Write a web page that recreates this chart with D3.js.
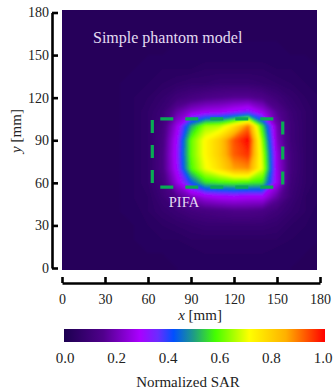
<!DOCTYPE html>
<html>
<head>
<meta charset="utf-8">
<title>SAR map</title>
<script src="https://cdn.jsdelivr.net/npm/d3@7"></script>
<style>
  body { margin: 0; background: #fff; }
  svg text { font-family: "Liberation Serif", "Times New Roman", serif; }
</style>
</head>
<body>
<svg id="sar" width="336" height="392"></svg>
<script>
// grid nodes (mm), rows go from top (y=180) to bottom (y=0)
var gridX = [0, 10, 20, 30, 40, 50, 60, 70, 80, 90, 100, 110, 120, 130, 140, 150, 160, 170, 180];
var gridY = [180, 170, 160, 150, 140, 130, 120, 110, 100, 90, 80, 70, 60, 50, 40, 30, 20, 10, 0];

// normalized SAR, in percent
var sarRows = [
  [2, 2, 2, 2, 2, 2, 2, 2, 2, 2, 2, 2, 2, 2, 2, 2, 2, 2, 2],
  [2, 2, 2, 2, 2, 2, 2, 2, 2, 2, 2, 2, 2, 2, 2, 2, 2, 2, 2],
  [2, 2, 2, 2, 2, 2, 2, 2, 3, 3, 3, 3, 3, 3, 3, 3, 2, 2, 2],
  [2, 2, 2, 2, 2, 2, 3, 3, 3, 3, 3, 3, 3, 3, 3, 3, 3, 3, 2],
  [2, 2, 2, 2, 2, 3, 3, 4, 4, 4, 5, 5, 5, 5, 5, 4, 4, 3, 3],
  [2, 2, 2, 2, 3, 3, 4, 5, 6, 7, 7, 8, 8, 8, 7, 6, 5, 4, 3],
  [2, 2, 2, 2, 3, 4, 5, 7, 10, 12, 14, 15, 16, 16, 14, 10, 7, 5, 4],
  [2, 2, 2, 2, 3, 4, 6, 9, 18, 24, 27, 28, 31, 34, 26, 16, 9, 6, 4],
  [2, 2, 2, 2, 3, 4, 6, 11, 26, 50, 64, 66, 76, 90, 55, 20, 10, 6, 4],
  [2, 2, 2, 2, 3, 4, 6, 12, 30, 60, 72, 80, 93, 100, 62, 22, 10, 6, 4],
  [2, 2, 2, 2, 3, 4, 6, 13, 31, 60, 72, 80, 92, 96, 66, 25, 11, 6, 4],
  [2, 2, 2, 2, 3, 4, 6, 13, 30, 58, 70, 77, 86, 88, 68, 26, 11, 6, 4],
  [2, 2, 2, 2, 3, 4, 6, 11, 25, 42, 55, 57, 58, 57, 56, 27, 10, 6, 4],
  [2, 2, 2, 2, 3, 4, 5, 9, 15, 21, 26, 28, 29, 28, 28, 18, 9, 5, 4],
  [2, 2, 2, 2, 3, 3, 5, 7, 9, 11, 12, 13, 14, 14, 13, 10, 7, 5, 3],
  [2, 2, 2, 2, 2, 3, 4, 5, 6, 7, 8, 8, 8, 8, 8, 7, 5, 4, 3],
  [2, 2, 2, 2, 2, 3, 3, 4, 4, 5, 5, 5, 5, 5, 5, 5, 4, 3, 3],
  [2, 2, 2, 2, 2, 2, 3, 3, 3, 3, 4, 4, 4, 4, 4, 3, 3, 3, 2],
  [2, 2, 2, 2, 2, 2, 2, 2, 3, 3, 3, 3, 3, 3, 3, 3, 3, 2, 2]
];

var axisTicks = [0, 30, 60, 90, 120, 150, 180];
var barTicks = [0, 0.2, 0.4, 0.6, 0.8, 1.0];

// colour map of the SAR scale
var cmapStops = [0, 0.15, 0.29, 0.36, 0.42, 0.5, 0.58, 0.71, 0.85, 1.0];
var cmapColors = ["#1c0050", "#50008c", "#aa00ff", "#6a2cff", "#0050ff", "#20a080",
                  "#44ff00", "#ffff00", "#ffb000", "#ff0000"];

// PIFA outline [x0, x1, y0, y1] in mm
var pifaBox = [63, 154, 57, 105];

var svg = d3.select('#sar');

var x = d3.scaleLinear().domain([0, 180]).range([62, 320]);
var y = d3.scaleLinear().domain([0, 180]).range([268, 12.5]);
var color = d3.scaleLinear().domain(cmapStops).range(cmapColors).clamp(true);

var defs = svg.append('defs');
defs.append('clipPath').attr('id', 'plotclip')
  .append('rect')
  .attr('x', 62).attr('y', 10)
  .attr('width', 255).attr('height', 260);
defs.append('filter').attr('id', 'soft')
  .attr('x', '-5%').attr('y', '-5%').attr('width', '110%').attr('height', '110%')
  .append('feGaussianBlur').attr('stdDeviation', 1.3);

// heat map from contour bands
var values = [];
sarRows.forEach(function(r) { r.forEach(function(v) { values.push(v / 100); }); });

var nx = gridX.length, ny = gridY.length;
var step = gridX[1] - gridX[0];
var thresholds = d3.range(1, 100).map(function(d) { return d / 100; });
var bands = d3.contours().size([nx, ny]).thresholds(thresholds)(values);

var proj = d3.geoTransform({
  point: function(cx, cy) {
    this.stream.point(x(gridX[0] + step * (cx - 0.5)), y(gridY[0] - step * (cy - 0.5)));
  }
});
var path = d3.geoPath(proj);

var heat = svg.append('g').attr('clip-path', 'url(#plotclip)')
  .append('g').attr('filter', 'url(#soft)');

heat.append('rect')
  .attr('x', 50).attr('y', 0).attr('width', 280).attr('height', 285)
  .attr('fill', color(0.01));

heat.selectAll('path.band')
  .data(bands)
  .enter().append('path')
  .attr('class', 'band')
  .attr('d', path)
  .attr('fill', function(d) { return color(d.value + 0.005); });

// PIFA dashed outline
svg.append('rect')
  .attr('x', x(pifaBox[0]))
  .attr('y', y(pifaBox[3]))
  .attr('width', x(pifaBox[1]) - x(pifaBox[0]))
  .attr('height', y(pifaBox[2]) - y(pifaBox[3]))
  .attr('fill', 'none')
  .attr('stroke', '#0aaa55')
  .attr('stroke-width', 3.2)
  .attr('stroke-dasharray', '13,12')
  .attr('stroke-dashoffset', 17);

svg.append('text')
  .attr('x', 93).attr('y', 43)
  .attr('font-size', 16)
  .attr('fill', '#e4dcf2')
  .text('Simple phantom model');

svg.append('text')
  .attr('x', x(74.5)).attr('y', 207)
  .attr('font-size', 14.5)
  .attr('fill', '#e4dcf2')
  .text('PIFA');

// axes
var yAxis = svg.append('g')
  .attr('transform', 'translate(52,0)')
  .call(d3.axisLeft(y).tickValues(axisTicks).tickSizeInner(-6).tickSizeOuter(0).tickPadding(3));

var xAxis = svg.append('g')
  .attr('transform', 'translate(0,283)')
  .call(d3.axisBottom(x).tickValues(axisTicks).tickSizeInner(-6).tickSizeOuter(0).tickPadding(11));

[yAxis, xAxis].forEach(function(a) {
  a.select('.domain').attr('stroke', '#000').attr('stroke-width', 2.6);
  a.selectAll('.tick line').attr('stroke', '#000').attr('stroke-width', 2.6);
  a.selectAll('.tick text')
    .attr('font-family', '"Liberation Serif", serif')
    .attr('font-size', 14)
    .attr('fill', '#222');
});

var xl = svg.append('text')
  .attr('x', 200).attr('y', 320)
  .attr('text-anchor', 'middle')
  .attr('font-size', 15)
  .attr('fill', '#222');
xl.append('tspan').attr('font-style', 'italic').text('x');
xl.append('tspan').text(' [mm]');

var yl = svg.append('text')
  .attr('transform', 'translate(21,131) rotate(-90)')
  .attr('text-anchor', 'middle')
  .attr('font-size', 15)
  .attr('fill', '#222');
yl.append('tspan').attr('font-style', 'italic').text('y');
yl.append('tspan').text(' [mm]');

// colour bar
var cb = d3.scaleLinear().domain([0, 1]).range([64, 325]);

var grad = defs.append('linearGradient').attr('id', 'cbar')
  .attr('x1', '0%').attr('x2', '100%').attr('y1', '0%').attr('y2', '0%');
grad.selectAll('stop')
  .data(cmapStops)
  .enter().append('stop')
  .attr('offset', function(d) { return (d * 100) + '%'; })
  .attr('stop-color', function(d, i) { return cmapColors[i]; });

svg.append('rect')
  .attr('x', cb(0)).attr('y', 329)
  .attr('width', cb(1) - cb(0)).attr('height', 13)
  .attr('fill', 'url(#cbar)');

var cbLab = d3.scaleLinear().domain([0, 1]).range([65, 323]);
svg.selectAll('text.cbl')
  .data(barTicks)
  .enter().append('text')
  .attr('class', 'cbl')
  .attr('x', function(d) { return cbLab(d); })
  .attr('y', 363)
  .attr('text-anchor', 'middle')
  .attr('font-size', 15)
  .attr('fill', '#222')
  .text(function(d) { return d.toFixed(1); });

svg.append('text')
  .attr('x', 188).attr('y', 387)
  .attr('text-anchor', 'middle')
  .attr('font-size', 15)
  .attr('fill', '#222')
  .text('Normalized SAR');
</script>
</body>
</html>
